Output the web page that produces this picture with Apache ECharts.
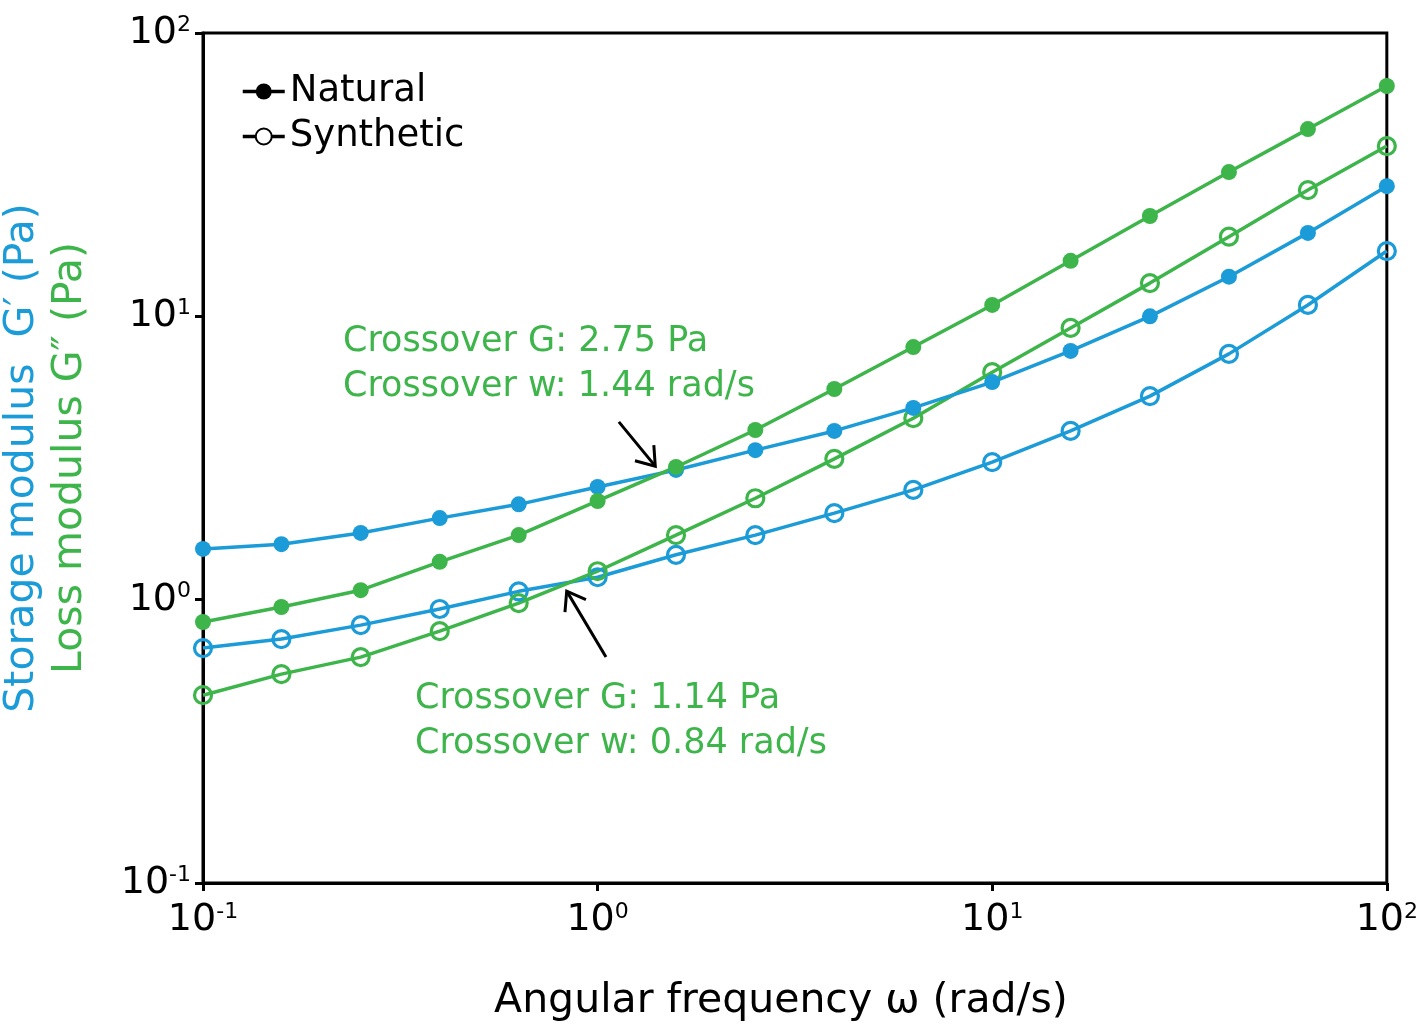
<!DOCTYPE html>
<html><head><meta charset="utf-8">
<script src="https://cdn.jsdelivr.net/npm/echarts@6/dist/echarts.min.js"></script>
<style>html,body{margin:0;padding:0;background:#fff}#c{width:1421px;height:1027px}</style>
</head><body><div id="c"></div>
<script>
const freq = [0.1, 0.158, 0.251, 0.398, 0.631, 1, 1.58, 2.51, 3.98, 6.31, 10, 15.8, 25.1, 39.8, 63.1, 100];
const naturalGp  = [1.51, 1.57, 1.72, 1.94, 2.17, 2.50, 2.87, 3.37, 3.94, 4.75, 5.86, 7.55, 10.0, 13.8, 19.7, 28.8];
const naturalGpp = [0.834, 0.942, 1.08, 1.36, 1.69, 2.23, 2.94, 3.97, 5.54, 7.79, 10.97, 15.7, 22.6, 32.3, 45.8, 65.0];
const synthGp    = [0.675, 0.726, 0.813, 0.927, 1.07, 1.20, 1.44, 1.69, 2.02, 2.44, 3.06, 3.94, 5.23, 7.37, 10.97, 17.0];
const synthGpp   = [0.460, 0.546, 0.627, 0.774, 0.973, 1.26, 1.69, 2.28, 3.14, 4.37, 6.35, 9.10, 13.1, 19.1, 27.9, 39.9];
const legendNames = ['Natural', 'Synthetic'];
const arrow1 = [[1.132, 4.24], [1.40, 2.96]];
const arrow2 = [[1.05, 0.627], [0.835, 1.072]];
const note1 = ['Crossover G: 2.75 Pa', 'Crossover w: 1.44 rad/s'];
const note2 = ['Crossover G: 1.14 Pa', 'Crossover w: 0.84 rad/s'];

const BLUE = '#1b9bd7', GREEN = '#3db54a';
const FONT = 'DejaVu Sans';
const pair = (ys) => freq.map((x, i) => [x, ys[i]]);

function sup(v) {
  const e = Math.round(Math.log10(v));
  return '{b|10}{s|' + e + '}';
}
const rich = {
  b: {fontSize: 38, fontFamily: FONT, color: '#000'},
  s: {fontSize: 22, fontFamily: FONT, color: '#000', verticalAlign: 'top', padding: [0, 0, 16, 0]}
};

function mkSeries(name, data, color, filled) {
  return {
    name, type: 'line', data: pair(data),
    symbol: 'circle', symbolSize: filled ? 16 : 17,
    lineStyle: {color, width: 3.5},
    itemStyle: filled ? {color} : {color: 'rgba(255,255,255,0)', borderColor: color, borderWidth: 3.2},
    z: filled ? 3 : 2
  };
}

const textGraphics = [
  {type: 'text', rotation: Math.PI / 2, x: 22, y: 458, style: {text: 'Storage modulus  G′ (Pa)', fill: BLUE, font: '41px ' + FONT, textAlign: 'center', textVerticalAlign: 'middle'}},
  {type: 'text', rotation: Math.PI / 2, x: 70, y: 458, style: {text: 'Loss modulus G″ (Pa)', fill: GREEN, font: '41px ' + FONT, textAlign: 'center', textVerticalAlign: 'middle'}},
  {type: 'text', x: 343, y: 342, style: {text: note1[0], fill: GREEN, font: '35px ' + FONT, textVerticalAlign: 'middle'}},
  {type: 'text', x: 343, y: 387, style: {text: note1[1], fill: GREEN, font: '35px ' + FONT, textVerticalAlign: 'middle'}},
  {type: 'text', x: 415, y: 699, style: {text: note2[0], fill: GREEN, font: '35px ' + FONT, textVerticalAlign: 'middle'}},
  {type: 'text', x: 415, y: 744, style: {text: note2[1], fill: GREEN, font: '35px ' + FONT, textVerticalAlign: 'middle'}}
];

const chart = echarts.init(document.getElementById('c'));
chart.setOption({
  animation: false,
  grid: {left: 203, right: 30, top: 33, bottom: 144, show: true, borderColor: '#000', borderWidth: 3},
  legend: {
    data: legendNames, orient: 'vertical', left: 236, top: 68, itemGap: 8,
    itemWidth: 42, itemHeight: 20,
    lineStyle: {width: 3.5, color: '#000'},
    textStyle: {fontSize: 37, fontFamily: FONT, color: '#000'}
  },
  xAxis: {
    type: 'log', logBase: 10, min: 0.1, max: 100,
    name: 'Angular frequency ω (rad/s)', nameLocation: 'middle', nameGap: 98,
    nameTextStyle: {fontSize: 41, fontFamily: FONT, color: '#000', padding: [0, 28, 0, 0]},
    axisLine: {show: true, lineStyle: {color: '#000', width: 3}},
    axisTick: {show: true, length: 8, lineStyle: {color: '#000', width: 3}},
    minorTick: {show: false}, splitLine: {show: false},
    axisLabel: {formatter: sup, rich, margin: 18}
  },
  yAxis: {
    type: 'log', logBase: 10, min: 0.1, max: 100,
    axisLine: {show: true, lineStyle: {color: '#000', width: 3}},
    axisTick: {show: true, length: 8, lineStyle: {color: '#000', width: 3}},
    splitLine: {show: false},
    axisLabel: {formatter: sup, rich, margin: 12}
  },
  graphic: textGraphics,
  series: [
    {name: legendNames[0], type: 'line', data: [], symbol: 'circle', symbolSize: 16, lineStyle: {color: '#000', width: 3.5}, itemStyle: {color: '#000'}},
    {name: legendNames[1], type: 'line', data: [], symbol: 'circle', symbolSize: 16, lineStyle: {color: '#000', width: 3.5}, itemStyle: {color: '#fff', borderColor: '#000', borderWidth: 3}},
    mkSeries('G1', naturalGp, BLUE, true),
    mkSeries('G2', naturalGpp, GREEN, true),
    mkSeries('G3', synthGp, BLUE, false),
    mkSeries('G4', synthGpp, GREEN, false)
  ]
});

function arrowGraphics(pts) {
  const a = chart.convertToPixel({gridIndex: 0}, pts[0]);
  const b = chart.convertToPixel({gridIndex: 0}, pts[1]);
  const ang = Math.atan2(b[1] - a[1], b[0] - a[0]);
  const L = 21, spread = 0.62;
  const h1 = [b[0] - L * Math.cos(ang - spread), b[1] - L * Math.sin(ang - spread)];
  const h2 = [b[0] - L * Math.cos(ang + spread), b[1] - L * Math.sin(ang + spread)];
  const st = {stroke: '#000', lineWidth: 3, fill: 'none', lineJoin: 'miter', lineCap: 'butt'};
  return [
    {type: 'polyline', shape: {points: [a, b]}, style: st, z: 10},
    {type: 'polyline', shape: {points: [h1, b, h2]}, style: st, z: 10}
  ];
}
chart.setOption({graphic: textGraphics.concat(arrowGraphics(arrow1), arrowGraphics(arrow2))});
</script></body></html>
